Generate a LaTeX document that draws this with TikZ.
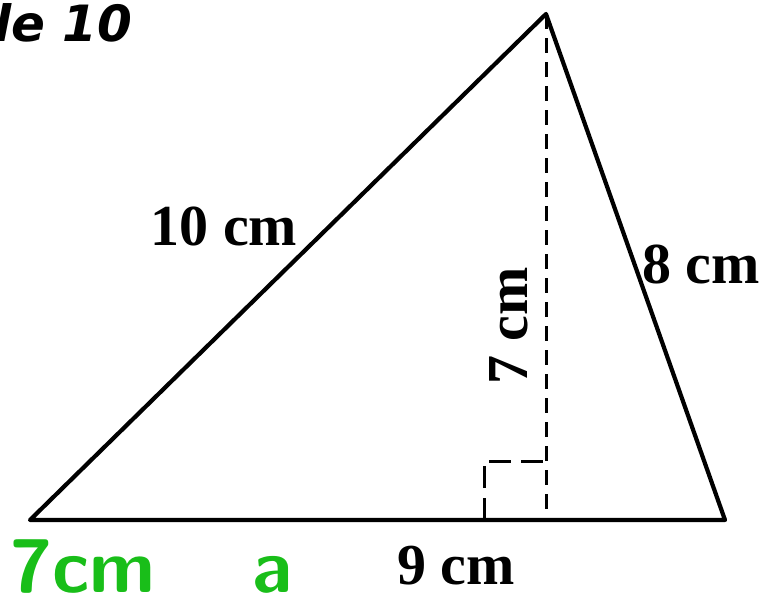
\documentclass[tikz,border=0pt]{standalone}
\usepackage{fontspec}
\setmainfont{Liberation Serif}
\newfontfamily\headfont{DejaVu Sans}
\usepackage{tikz}
\usetikzlibrary{arrows.meta,calc,positioning}
\definecolor{pen}{RGB}{25,190,25}
\tikzset{
  side/.style={line width=4.2pt, line join=round},
  height/.style={line width=3pt, dash pattern=on 15pt off 9pt},
  lbl/.style={font=\fontsize{58}{62}\selectfont\bfseries, inner sep=0pt},
  note/.style={text=pen, inner sep=0pt, anchor=base west,
    font=\fontsize{76}{80}\selectfont\bfseries\sffamily},
}
\begin{document}
\begin{tikzpicture}[x=1pt, y=-1pt]
\useasboundingbox (0,0) rectangle (774,592);
\clip (0,0) rectangle (774,592);
% --- corners of the triangle ---
\coordinate (A) at (30,520);
\coordinate (B) at (725,520);
\coordinate (C) at (546,14);
\coordinate (D) at (546,520);
\coordinate (E) at (484,520);
\coordinate (F) at (484,461);
\coordinate (G) at (546,461);

% sides
\draw[side] (A) -- (C) -- (B) -- cycle;

% height and right angle mark
\draw[height] (C) -- (D);
\draw[line width=3pt, dash pattern=on 22pt off 10pt] (E) -- (F) -- (G);

% --- lengths ---
\node[lbl] (l10) at (224,226) {10 cm};
\node[lbl, anchor=west] (l8) at (642,264) {8 cm};
\node[lbl, rotate=90] (l7) at (509,326) {7 cm};
\node[lbl] (l9) at (456,566) {9 cm};

% heading, cut at the left border
\node[inner sep=0pt, anchor=base west, font=\headfont\fontsize{50}{52}\selectfont\bfseries\itshape] (head) at (-6,41) {le 10};

% green notes
\node[note] (n7) at (10,592) {7cm};
\node[note] (na) at (252,592) {a};
\end{tikzpicture}
\end{document}
